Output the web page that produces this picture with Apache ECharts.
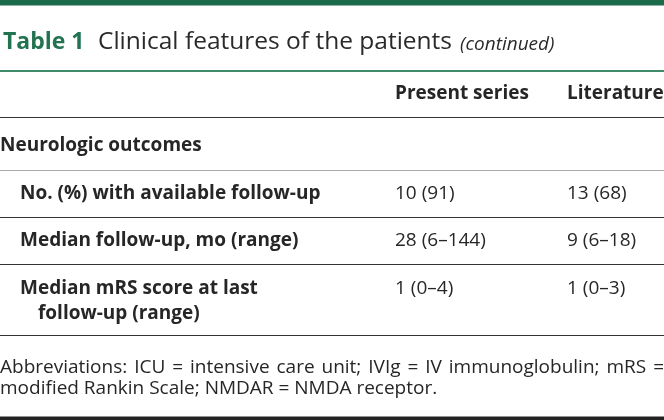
<!DOCTYPE html>
<html><head><meta charset="utf-8">
<script src="https://cdn.jsdelivr.net/npm/echarts@6/dist/echarts.min.js"></script>
<style>html,body{margin:0;padding:0;background:#fff}#c{width:664px;height:420px}</style>
</head><body><div id="c"></div>
<script>
const titleLabel = 'Table 1';
const titleText = 'Clinical features of the patients';
const titleNote = '(continued)';
const columnHeaders = ['Present series', 'Literature'];
const sectionLabel = 'Neurologic outcomes';
const rowLabels = [['No. (%) with available follow-up'], ['Median follow-up, mo (range)'], ['Median mRS score at last', 'follow-up (range)']];
const presentSeries = ['10 (91)', '28 (6–144)', '1 (0–4)'];
const literature = ['13 (68)', '9 (6–18)', '1 (0–3)'];
const footnoteLines = ['Abbreviations: ICU = intensive care unit; IVIg = IV immunoglobulin; mRS =', 'modified Rankin Scale; NMDAR = NMDA receptor.'];

const FF = "'Open Sans', 'Noto Sans', sans-serif";
const W = 664;
const TXT = '#262626';
const BODY = 19;
const colX = [395, 567];
const rowY = [193.5, 240.5, 288.5];
const rowLines = [217.5, 264.5, 335.5];
const g = [];
function line(y, color, w) {
  g.push({ type: 'line', shape: { x1: 0, y1: y, x2: W, y2: y }, style: { stroke: color, lineWidth: w } });
}
function text(x, y, s, font, color) {
  g.push({ type: 'text', x: x, y: y, style: { text: s, font: font, fill: color, verticalAlign: 'middle', align: 'left' } });
}
// top bar
g.push({ type: 'rect', shape: { x: 0, y: 0, width: W, height: 5.5 }, style: { fill: '#1b6b4a' } });
// title
text(3, 42.5, titleLabel, 'bold 23px ' + FF, '#237352');
text(98, 42.5, titleText, '24.5px ' + FF, '#2a2a2a');
text(460, 44.5, titleNote, 'italic 19px ' + FF, '#2a2a2a');
line(71, '#3f8a68', 2);
// header
text(colX[0], 93.5, columnHeaders[0], 'bold ' + BODY + 'px ' + FF, TXT);
text(colX[1], 93.5, columnHeaders[1], 'bold ' + BODY + 'px ' + FF, TXT);
line(117.5, '#333', 1);
// section
text(0, 146, sectionLabel, 'bold ' + BODY + 'px ' + FF, TXT);
line(170.5, '#aaa', 1);
rowLabels.forEach((lbls, i) => {
  lbls.forEach((l, j) => text(j === 0 ? 20 : 38, rowY[i] + j * 25, l, 'bold ' + BODY + 'px ' + FF, TXT));
  text(colX[0], rowY[i], presentSeries[i], BODY + 'px ' + FF, TXT);
  text(colX[1], rowY[i], literature[i], BODY + 'px ' + FF, TXT);
  line(rowLines[i], '#333', 1);
});
// footnote (first line justified)
const FN = BODY + 'px ' + FF;
const ctx = document.createElement('canvas').getContext('2d');
ctx.font = FN;
const words = footnoteLines[0].split(' ');
const wsum = words.reduce((a, w) => a + ctx.measureText(w).width, 0);
const gap = (W - wsum) / (words.length - 1);
let cx = 0;
words.forEach(w => { text(cx, 367.5, w, FN, TXT); cx += ctx.measureText(w).width + gap; });
text(0, 388.5, footnoteLines[1], FN, TXT);
g.push({ type: 'rect', shape: { x: 0, y: 416.5, width: W, height: 4 }, style: { fill: '#222' } });

const chart = echarts.init(document.getElementById('c'), null, { renderer: 'canvas' });
chart.setOption({ animation: false, graphic: { elements: g } });
</script></body></html>
